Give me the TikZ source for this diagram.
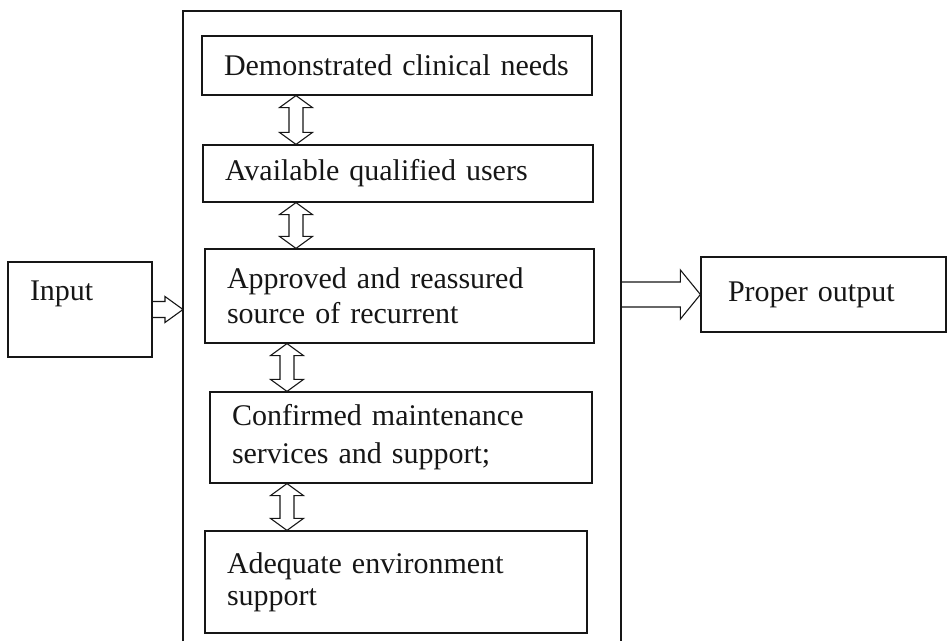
\documentclass[tikz,border=0pt]{standalone}
\usepackage{fontspec}
\setmainfont{Liberation Serif}
\usetikzlibrary{
  calc
}
\definecolor{flInk}{HTML}{161616}
\tikzset{
  needbox/.style={
    draw=flInk,
    line width=1.2pt,
    rectangle,
    align=left,
    inner xsep=22pt,
    text=flInk,
    font=\fontsize{30pt}{35pt}\selectfont
  },
  iobox/.style={needbox},
  panelline/.style={draw=flInk, line width=1.3pt},
  % hollow arrow pointing right: shaft half width, head half width, head length
  hollowright/.style n args={3}{
    draw=flInk, line width=1.1pt,
    to path={let \p1=(\tikztostart), \p2=(\tikztotarget) in
      (\x1,\y1+#1) -- (\x2-#3,\y1+#1) -- (\x2-#3,\y1+#2) -- (\x2,\y1)
      -- (\x2-#3,\y1-#2) -- (\x2-#3,\y1-#1) -- (\x1,\y1-#1)}
  },
  % hollow two-headed arrow, top to bottom
  hollowboth/.style={
    draw=flInk, line width=1.1pt,
    to path={let \p1=(\tikztostart), \p2=(\tikztotarget) in
      (\x1,\y1) -- (\x1+16.5pt,\y1-12pt) -- (\x1+7pt,\y1-12pt)
      -- (\x1+7pt,\y2+12pt) -- (\x1+16.5pt,\y2+12pt) -- (\x1,\y2)
      -- (\x1-16.5pt,\y2+12pt) -- (\x1-7pt,\y2+12pt)
      -- (\x1-7pt,\y1-12pt) -- (\x1-16.5pt,\y1-12pt) -- cycle}
  }
}

\begin{document}
\begin{tikzpicture}[x=1pt,y=1pt]

\useasboundingbox (0,0) rectangle (948,-641);

% --------------------------------------------------------------------------
% Outer panel (open at the bottom)
% --------------------------------------------------------------------------
\coordinate (panelSW) at (183,-641);
\coordinate (panelNW) at (183,-11);
\coordinate (panelNE) at (621,-11);
\coordinate (panelSE) at (621,-641);

\draw[panelline] (panelSW) -- (panelNW) -- (panelNE) -- (panelSE);

% --------------------------------------------------------------------------
% Requirements
% --------------------------------------------------------------------------
\node[needbox, text width=346pt, minimum height=59pt] (needs) at (397,-65.5) {
  Demonstrated clinical needs
};

\node[needbox, text width=346pt, minimum height=57pt] (users) at (398,-173.5) {
  Available qualified users
};

\node[needbox, text width=345pt, minimum height=94pt] (source) at (399.5,-296) {
  Approved and reassured\\
  source of recurrent
};

\node[needbox, text width=338pt, minimum height=91pt] (maint) at (401,-437.5) {
  Confirmed maintenance\\[3pt]
  services and support;
};

\node[needbox, text width=338pt, minimum height=102pt] (environ) at (396,-582) {
  Adequate environment\\[-3pt]
  support
};

\coordinate (colA) at (296,0);
\coordinate (colB) at (287,0);

\draw[hollowboth] (needs.south -| colA) to (users.north -| colA);
\draw[hollowboth] (users.south -| colA) to (source.north -| colA);
\draw[hollowboth] (source.south -| colB) to (maint.north -| colB);
\draw[hollowboth] (maint.south -| colB) to (environ.north -| colB);

% --------------------------------------------------------------------------
% Input and output
% --------------------------------------------------------------------------
\node[iobox, text width=100pt, minimum height=95pt, text depth=38pt] (input) at (80,-309.5) {
  Input
};

\node[iobox, inner xsep=27pt, text width=191pt, minimum height=75pt] (output) at (823.5,-294.5) {
  Proper output
};

\draw[hollowright={8pt}{13pt}{18pt}] (input.east) to (input.east -| panelNW);
\draw[hollowright={12.5pt}{24.5pt}{20pt}] (output.west -| panelNE) to (output.west);

\end{tikzpicture}
\end{document}
